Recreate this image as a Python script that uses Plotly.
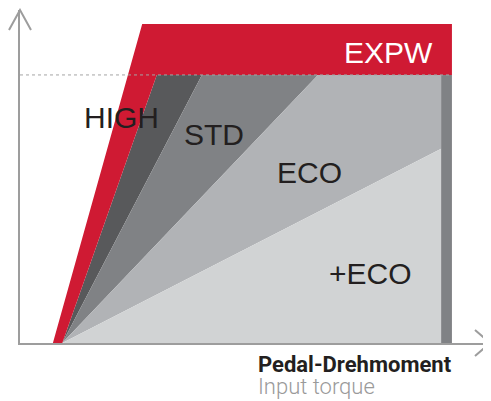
import plotly.graph_objects as go

# ---------------- data (axis units, 0..100 on both axes) ----------------
expw_top_y = 95.8          # upper edge of EXPW plateau
expw_bottom_y = 80.5       # lower edge of EXPW plateau (dotted reference level)
plateau_end_x = 91.9       # right end of the plateau / grey bar
bar_start_x = 89.6         # left edge of the right grey bar
red_left_bottom_x = 7.0
red_left_top_x = 26.0
fan_origin_x = 9.0
fan_origin_y = 0.0

mode_names = ["HIGH", "STD", "ECO", "+ECO"]
# end point of the ray that forms the LEFT/upper boundary of each mode
boundary_end_x = [29.1, 38.7, 63.4, 89.6]
boundary_end_y = [80.5, 80.5, 80.5, 58.3]
mode_colors = ["#58595B", "#808285", "#B1B3B6", "#D1D3D4"]
label_x = [21.7, 41.3, 61.7, 74.5]
label_y = [67.6, 62.7, 51.3, 21.0]

expw_name = "EXPW"
expw_label_x = 78.3
expw_label_y = 87.3
red = "#CF1A33"
bar_color = "#808285"
axis_color = "#9D9D9D"

x_title = "Pedal-Drehmoment"
x_subtitle = "Input torque"

fig = go.Figure()

# modes: each polygon bounded by its ray and the next ray (or the bar corner)
for i, name in enumerate(mode_names):
    xs = [fan_origin_x, boundary_end_x[i]]
    ys = [fan_origin_y, boundary_end_y[i]]
    if i + 1 < len(mode_names):
        if boundary_end_y[i + 1] < expw_bottom_y:
            xs += [bar_start_x, boundary_end_x[i + 1]]
            ys += [expw_bottom_y, boundary_end_y[i + 1]]
        else:
            xs += [boundary_end_x[i + 1]]
            ys += [boundary_end_y[i + 1]]
    else:
        xs += [bar_start_x]
        ys += [0]
    xs.append(fan_origin_x)
    ys.append(fan_origin_y)
    fig.add_trace(go.Scatter(x=xs, y=ys, fill="toself", fillcolor=mode_colors[i],
                             mode="lines", line=dict(width=0, color=mode_colors[i]),
                             hoverinfo="skip", showlegend=False))

# right grey bar
fig.add_trace(go.Scatter(x=[bar_start_x, plateau_end_x, plateau_end_x, bar_start_x, bar_start_x],
                         y=[0, 0, expw_bottom_y, expw_bottom_y, 0],
                         fill="toself", fillcolor=bar_color, mode="lines",
                         line=dict(width=0, color=bar_color), hoverinfo="skip", showlegend=False))

# EXPW red region
fig.add_trace(go.Scatter(
    x=[red_left_bottom_x, red_left_top_x, plateau_end_x, plateau_end_x, boundary_end_x[0], fan_origin_x, red_left_bottom_x],
    y=[0, expw_top_y, expw_top_y, expw_bottom_y, boundary_end_y[0], fan_origin_y, 0],
    fill="toself", fillcolor=red, mode="lines", line=dict(width=0, color=red),
    hoverinfo="skip", showlegend=False))

# dotted reference line
fig.add_trace(go.Scatter(x=[0, plateau_end_x], y=[expw_bottom_y, expw_bottom_y], mode="lines",
                         line=dict(color="#A5A5A5", width=1, dash="3px,3px"),
                         hoverinfo="skip", showlegend=False))

label_font = dict(family="Liberation Sans, Arial, sans-serif", size=30, color="#231F20")
for name, lx, ly in zip(mode_names, label_x, label_y):
    fig.add_annotation(x=lx, y=ly, text=name, showarrow=False, font=label_font,
                       xanchor="center", yanchor="middle")
fig.add_annotation(x=expw_label_x, y=expw_label_y, text=expw_name, showarrow=False,
                   font=dict(family="Liberation Sans, Arial, sans-serif", size=30, color="white"),
                   xanchor="center", yanchor="middle")

fig.add_annotation(xref="paper", yref="paper", x=0.502, y=-0.066, text="<b>" + x_title + "</b>",
                   showarrow=False, xanchor="left", yanchor="middle",
                   font=dict(family="Roboto", size=22, color="#231F20"))
fig.add_annotation(xref="paper", yref="paper", x=0.502, y=-0.13, text=x_subtitle,
                   showarrow=False, xanchor="left", yanchor="middle",
                   font=dict(family="Roboto", size=22, color="#9A9A9A", weight=300))

# axis arrow heads (open chevrons)
fig.add_shape(type="path", xref="paper", yref="paper", xsizemode="pixel", ysizemode="pixel",
              xanchor=0, yanchor=1, path="M -11,-20 L 0,0 L 11,-20",
              line=dict(color=axis_color, width=2))
fig.add_shape(type="path", xref="paper", yref="paper", xsizemode="pixel", ysizemode="pixel",
              xanchor=1, yanchor=0, path="M -15,13 L 0,0 L -15,-13",
              line=dict(color=axis_color, width=2))

fig.update_xaxes(range=[0, 100], showgrid=False, zeroline=False, showticklabels=False,
                 ticks="", showline=True, linecolor=axis_color, linewidth=2)
fig.update_yaxes(range=[0, 100], showgrid=False, zeroline=False, showticklabels=False,
                 ticks="", showline=True, linecolor=axis_color, linewidth=2)

# the page body adds an 8px offset; size/margins compensate for it
fig.update_layout(width=483, height=393, margin=dict(l=12, r=1, t=2, b=58),
                  plot_bgcolor="white", paper_bgcolor="white", showlegend=False)

fig.write_html("out.html")
